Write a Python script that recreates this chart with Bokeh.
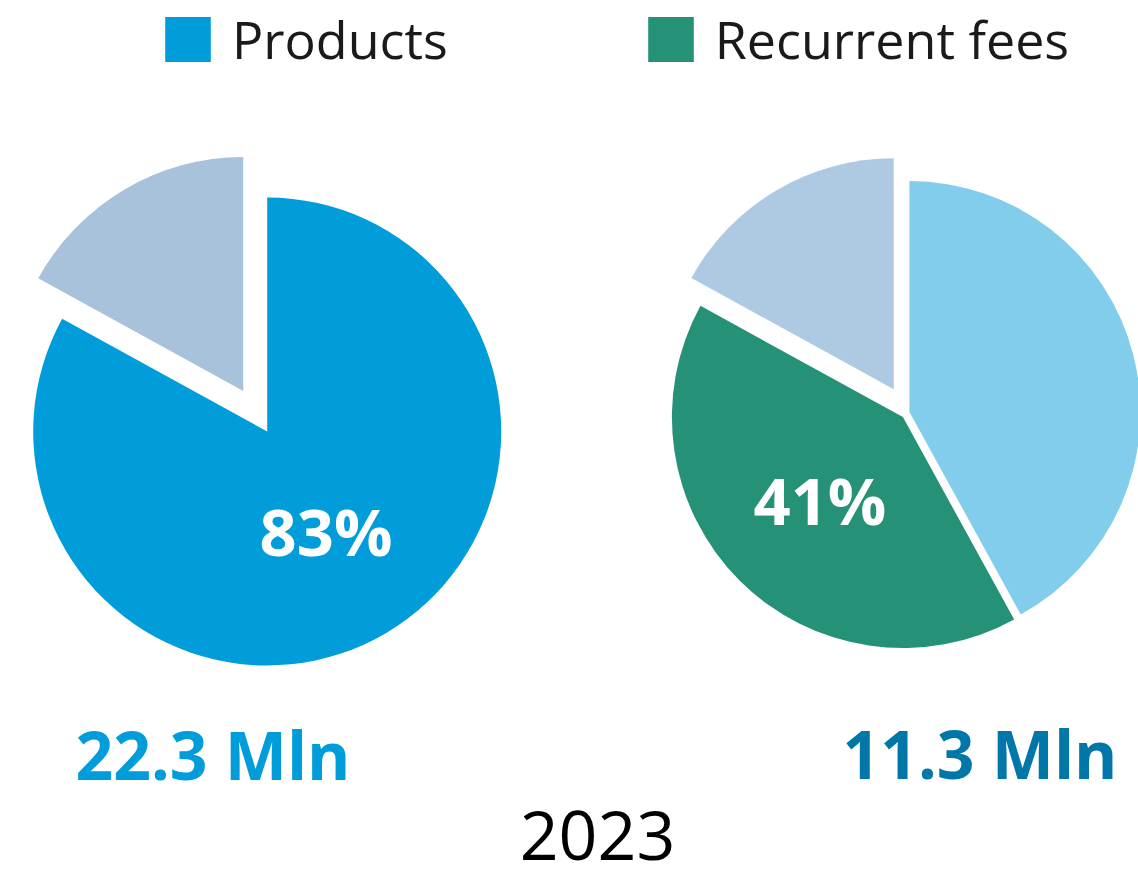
import math
from bokeh.plotting import figure
from bokeh.models import Range1d, Legend, LegendItem, ColumnDataSource
from bokeh.core.properties import value
from bokeh.embed import file_html
from bokeh.resources import INLINE

# ---------------- data ----------------
left_labels = ["Products", "Other"]
left_values = [83, 17]
right_labels = ["Other revenues", "Recurrent fees", "Other"]
right_values = [42, 41, 17]
pct_labels = ["83%", "41%"]
totals = ["22.3 Mln", "11.3 Mln"]
year = "2023"

# ---------------- style ----------------
left_colors = ["#009DDA", "#A7C2DA"]
right_colors = ["#82CDEC", "#259177", "#ADCAE2"]
left_explode = [0, 47]
right_explode = [2, 6.5, 27]
total_colors = ["#009DDA", "#0077A8"]

W, H = 1138, 871
p = figure(width=W, height=H, output_backend="svg", toolbar_location=None,
           x_range=Range1d(0, W), y_range=Range1d(0, H),
           min_border=0, outline_line_color=None, background_fill_color="white")
p.axis.visible = False
p.xgrid.visible = False
p.ygrid.visible = False


def pie(cx, cy, r, values, colors, explode):
    total = float(sum(values))
    start = math.pi / 2
    xs, ys, sa, ea, mids = [], [], [], [], []
    for v, e in zip(values, explode):
        end = start - v / total * 2 * math.pi
        mid = (start + end) / 2
        xs.append(cx + e * math.cos(mid))
        ys.append(cy + e * math.sin(mid))
        sa.append(end)
        ea.append(start)
        mids.append(mid)
        start = end
    src = ColumnDataSource(dict(x=xs, y=ys, start=sa, end=ea, color=colors))
    rend = p.wedge(x="x", y="y", radius=r, start_angle="start", end_angle="end",
                   direction="anticlock", fill_color="color", line_color=None, source=src)
    return rend, mids


LCX, LCY, LR = 266.7, H - 431, 234
RCX, RCY, RR = 907, H - 412, 231

lrend, lmids = pie(LCX, LCY, LR, left_values, left_colors, left_explode)
rrend, rmids = pie(RCX, RCY, RR, right_values, right_colors, right_explode)

# percentage labels on the highlighted slice
lab_x = [LCX + 0.494 * LR * math.cos(lmids[0]), RCX + 0.536 * RR * math.cos(rmids[1])]
lab_y = [LCY + 0.494 * LR * math.sin(lmids[0]), RCY + 0.536 * RR * math.sin(rmids[1])]
p.text(x=lab_x, y=lab_y, text=pct_labels, text_color="white",
       text_font=value("Open Sans"), text_font_style="bold", text_font_size="65px",
       text_align="center", text_baseline="middle")

# totals
p.text(x=[75], y=[H - 753.5], text=[totals[0]], text_color=total_colors[0],
       text_font=value("Open Sans"), text_font_style="bold", text_font_size="66px",
       text_align="left", text_baseline="middle")
p.text(x=[1117], y=[H - 752.5], text=[totals[1]], text_color=total_colors[1],
       text_font=value("Open Sans"), text_font_style="bold", text_font_size="66px",
       text_align="right", text_baseline="middle")

# year
p.text(x=[597], y=[H - 835], text=[year], text_color="black",
       text_font=value("Open Sans"), text_font_size="68px",
       text_align="center", text_baseline="middle")

legend = Legend(items=[LegendItem(label=left_labels[0], renderers=[lrend], index=0),
                       LegendItem(label=right_labels[1], renderers=[rrend], index=1)],
                orientation="horizontal", location=(159, H - 74),
                glyph_width=57, glyph_height=56, label_standoff=16, spacing=194,
                label_text_font="Open Sans", label_text_font_size="52px",
                label_text_color="#1a1a1a", padding=0, margin=0,
                border_line_color=None, background_fill_alpha=0)
p.add_layout(legend, "center")

open("out.html", "w").write(file_html(p, INLINE))
